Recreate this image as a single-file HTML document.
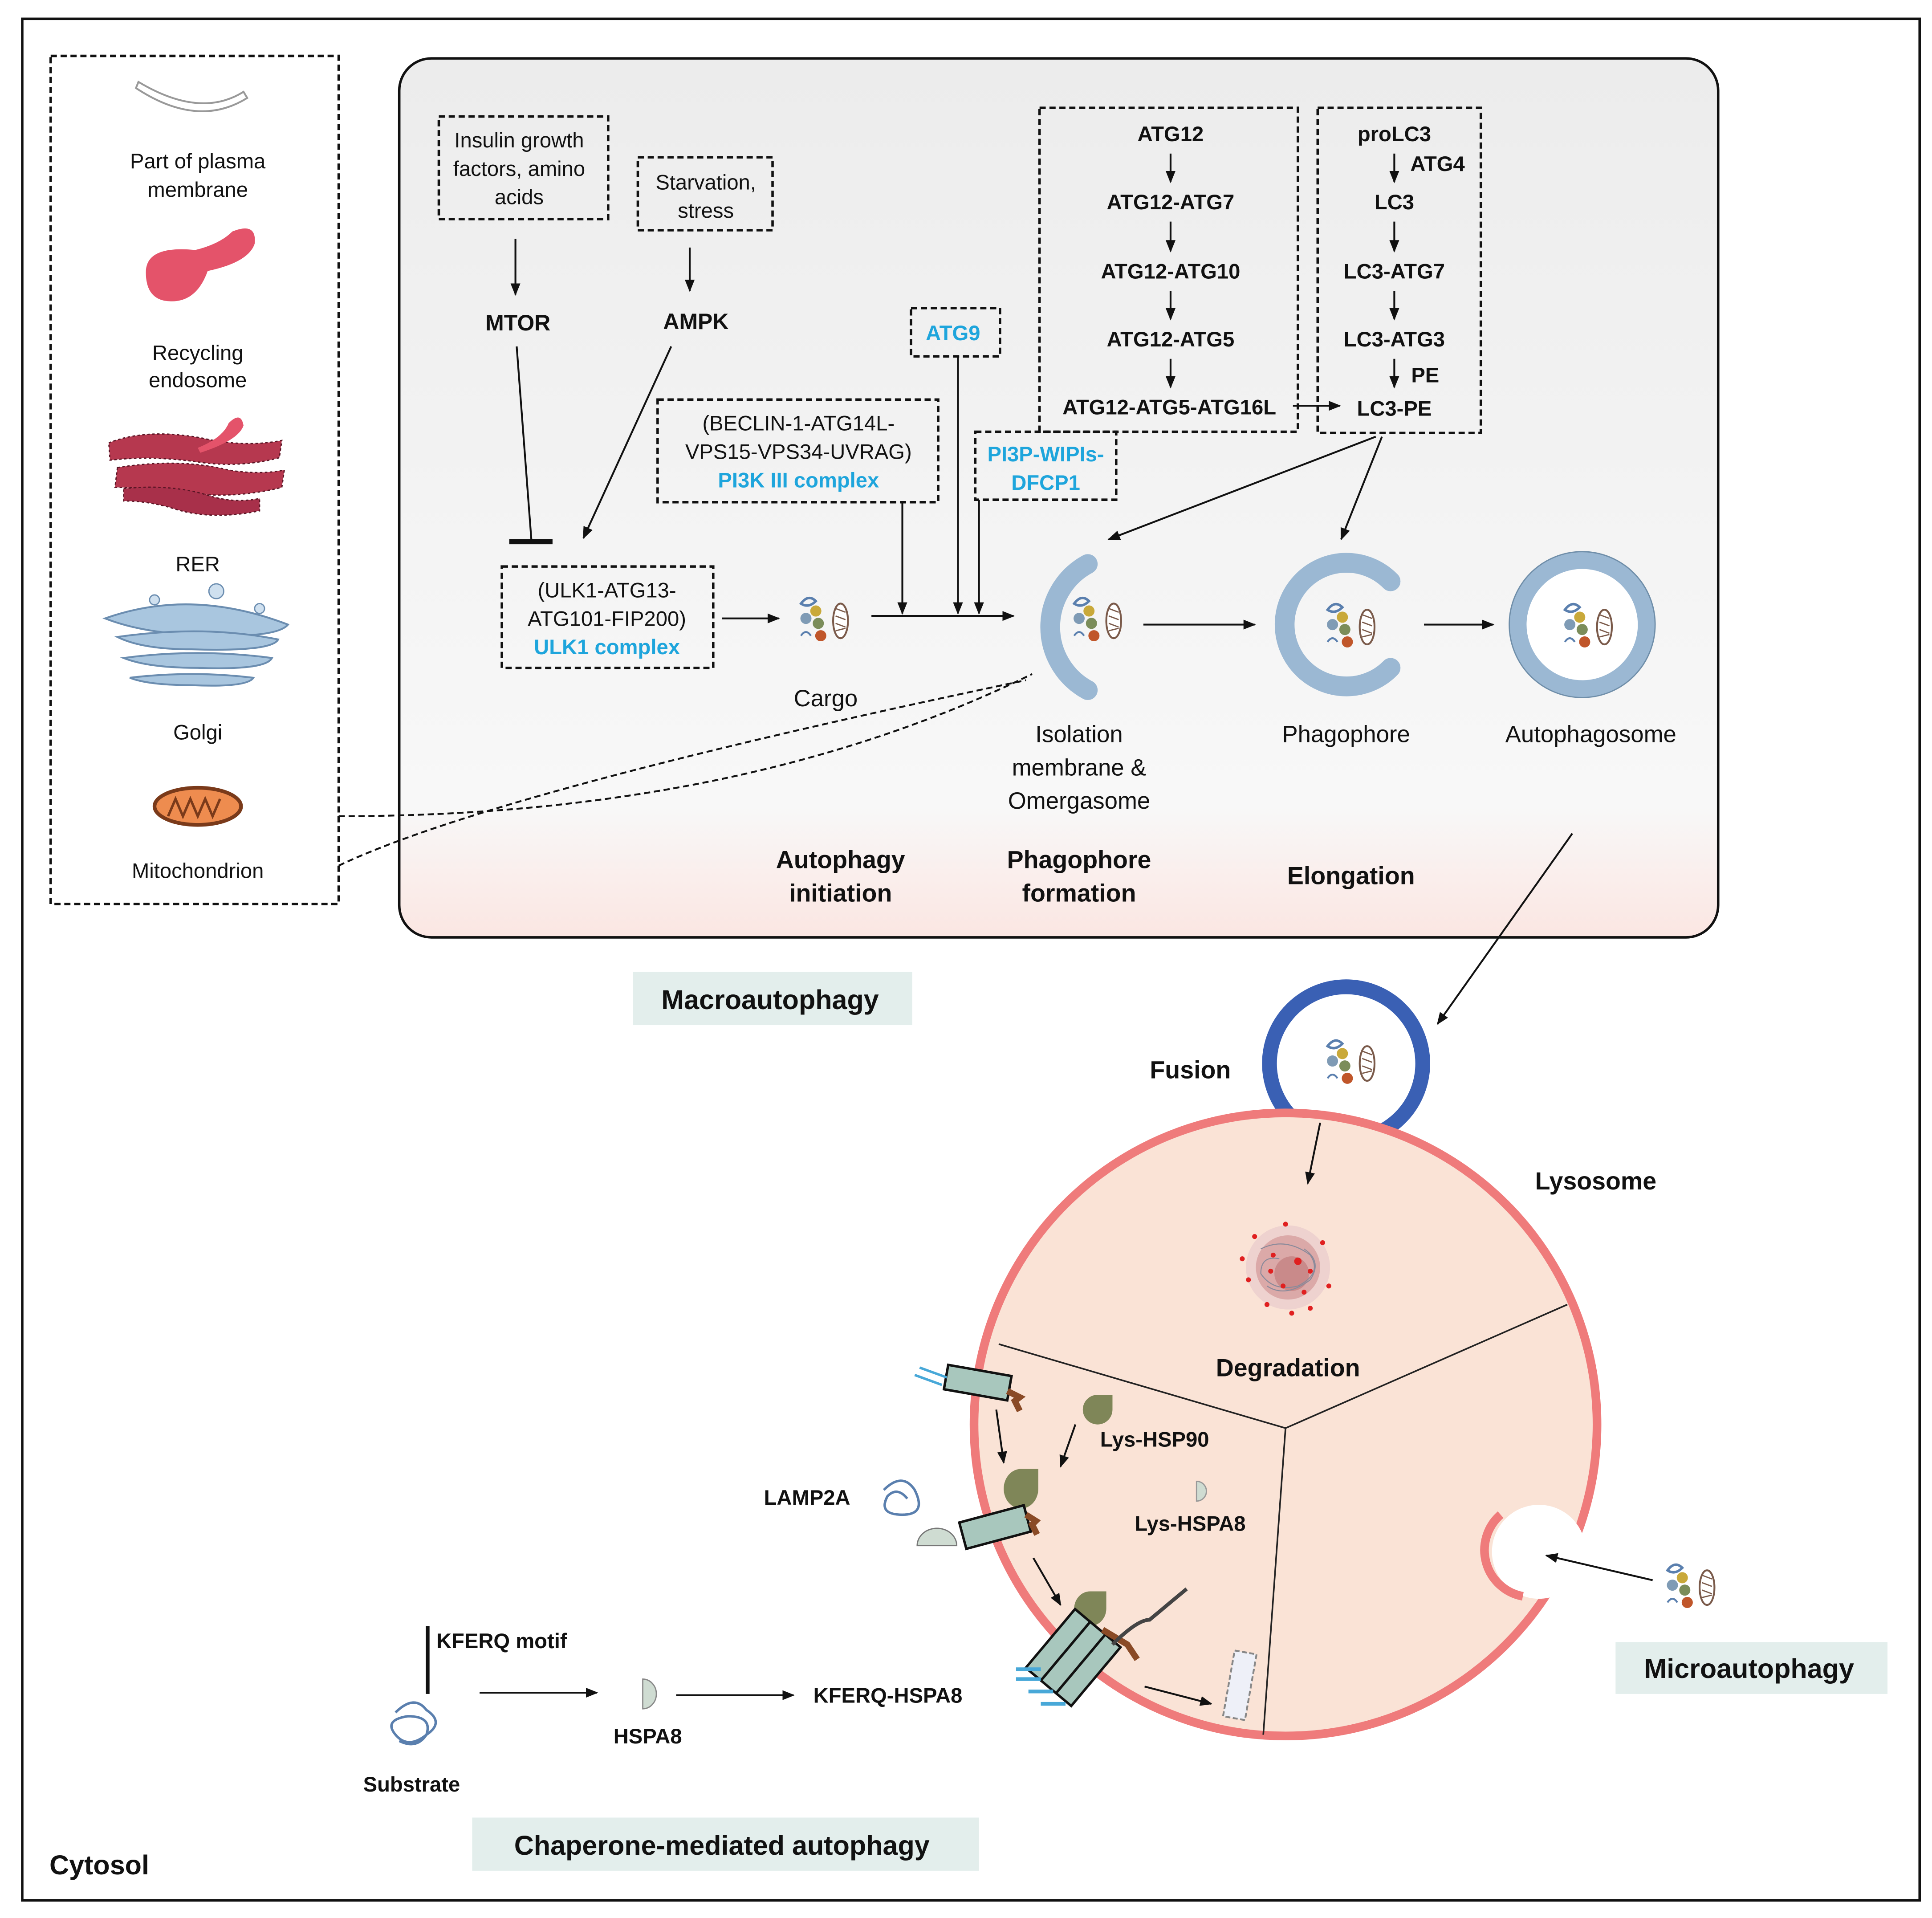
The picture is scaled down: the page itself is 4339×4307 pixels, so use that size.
<!DOCTYPE html>
<html><head><meta charset="utf-8">
<style>
html,body{margin:0;padding:0;background:#fff;}
svg{display:block;}
text{font-family:"Liberation Sans",sans-serif;fill:#111;}
.b{font-weight:bold;}
.c{fill:#1ea5dc;font-weight:bold;}
.d{fill:none;stroke:#111;stroke-width:2;stroke-dasharray:5,3;}
.l{stroke:#111;stroke-width:1.5;fill:none;}
</style></head>
<body>
<svg width="4339" height="4307" viewBox="0 0 1563 1551" xmlns="http://www.w3.org/2000/svg">
<defs>
<marker id="a" markerWidth="10" markerHeight="10" refX="9" refY="5" orient="auto" markerUnits="userSpaceOnUse"><path d="M0,1 L10,5 L0,9 z" fill="#111"/></marker>
<linearGradient id="pg" x1="0" y1="0" x2="0" y2="1"><stop offset="0" stop-color="#ececec"/><stop offset="0.85" stop-color="#f8f8f8"/><stop offset="1" stop-color="#fbe6e2"/></linearGradient>
<g id="cargo">
<path d="M-14,-12 q6,-8 12,-2 q-6,6 -12,2z" fill="none" stroke="#5a7fae" stroke-width="2"/>
<circle cx="-2" cy="-6" r="4.5" fill="#c9a93a"/>
<circle cx="-10" cy="0" r="4.5" fill="#7f9bb5"/>
<circle cx="0" cy="4" r="4.5" fill="#7b8d5a"/>
<circle cx="2" cy="14" r="4.5" fill="#c0562a"/>
<path d="M-14,14 q4,-6 8,0" fill="none" stroke="#5a7fae" stroke-width="1.5"/>
<ellipse cx="18" cy="2" rx="6" ry="14" fill="#fff" stroke="#7a5a4a" stroke-width="1.5"/>
<path d="M14,-8 l8,3 M14,-2 l8,3 M14,4 l8,3 M14,10 l8,-2" stroke="#7a5a4a" stroke-width="1"/>
</g>
</defs>

<rect x="18" y="15" width="1535" height="1522" fill="#fff" stroke="#111" stroke-width="2"/>
<rect x="323" y="47" width="1067" height="711" rx="26" fill="url(#pg)" stroke="#111" stroke-width="2"/>

<rect x="41" y="45" width="233" height="686" class="d"/>
<path d="M112,66 q50,30 85,8 l3,5 q-40,25 -90,-8z" fill="#fff" stroke="#999" stroke-width="1.5"/>
<text x="160" y="136" text-anchor="middle" font-size="17">Part of plasma</text>
<text x="160" y="159" text-anchor="middle" font-size="17">membrane</text>
<path d="M118,220 q0,-22 40,-18 q20,-5 30,-15 q20,-8 18,10 q-5,15 -38,22 q-10,28 -35,24 q-15,-3 -15,-23z" fill="#e4536a"/>
<text x="160" y="291" text-anchor="middle" font-size="17">Recycling</text>
<text x="160" y="313" text-anchor="middle" font-size="17">endosome</text>
<path d="M88,358 q30,-12 75,-4 q35,8 65,2 l-2,14 q-30,8 -62,4 q-40,-6 -75,-2z" fill="#b6384f" stroke="#5a1525" stroke-width="1" stroke-dasharray="2,2"/>
<path d="M95,378 q50,-8 90,2 q25,4 45,0 l-2,14 q-40,10 -80,4 q-30,-4 -55,-4z" fill="#b6384f" stroke="#5a1525" stroke-width="1" stroke-dasharray="2,2"/>
<path d="M100,395 q40,-4 70,6 q20,6 40,2 l0,10 q-40,8 -70,-2 q-20,-6 -40,-6z" fill="#a8304a" stroke="#5a1525" stroke-width="1" stroke-dasharray="2,2"/>
<path d="M160,362 q20,-8 25,-20 q10,-10 12,2 q-4,12 -35,22z" fill="#e4536a"/>
<text x="160" y="462" text-anchor="middle" font-size="17">RER</text>
<path d="M85,500 q70,-25 148,5 q-10,12 -80,8 q-40,-2 -68,-13z" fill="#a9c6df" stroke="#6b8db0" stroke-width="1.5"/>
<path d="M95,515 q70,-10 130,2 q-5,10 -70,8 q-40,0 -60,-10z" fill="#a9c6df" stroke="#6b8db0" stroke-width="1.5"/>
<path d="M100,532 q60,-8 120,0 q-5,10 -60,8 q-40,0 -60,-8z" fill="#a9c6df" stroke="#6b8db0" stroke-width="1.5"/>
<path d="M105,548 q50,-6 100,0 q-5,8 -50,6 q-35,0 -50,-6z" fill="#a9c6df" stroke="#6b8db0" stroke-width="1.5"/>
<circle cx="125" cy="485" r="4" fill="#cfe0ef" stroke="#6b8db0"/><circle cx="175" cy="478" r="6" fill="#cfe0ef" stroke="#6b8db0"/><circle cx="210" cy="492" r="4" fill="#cfe0ef" stroke="#6b8db0"/>
<text x="160" y="598" text-anchor="middle" font-size="17">Golgi</text>
<ellipse cx="160" cy="652" rx="35" ry="15" fill="#ee8c4f" stroke="#7a3a1a" stroke-width="3"/>
<path d="M136,660 l6,-14 l6,14 l6,-14 l6,14 l6,-14 l6,14 l6,-14" fill="none" stroke="#7a3a1a" stroke-width="2"/>
<text x="160" y="710" text-anchor="middle" font-size="17">Mitochondrion</text>

<path d="M274,660 Q600,660 835,545" fill="none" stroke="#111" stroke-width="1.5" stroke-dasharray="5,3"/>
<path d="M274,700 Q400,640 830,550" fill="none" stroke="#111" stroke-width="1.5" stroke-dasharray="5,3"/>

<rect x="355" y="94" width="137" height="83" class="d"/>
<text x="420" y="119" text-anchor="middle" font-size="17">Insulin growth</text>
<text x="420" y="142" text-anchor="middle" font-size="17">factors, amino</text>
<text x="420" y="165" text-anchor="middle" font-size="17">acids</text>
<rect x="516" y="127" width="109" height="59" class="d"/>
<text x="571" y="153" text-anchor="middle" font-size="17">Starvation,</text>
<text x="571" y="176" text-anchor="middle" font-size="17">stress</text>
<line x1="417" y1="193" x2="417" y2="238" class="l" marker-end="url(#a)"/>
<line x1="558" y1="200" x2="558" y2="235" class="l" marker-end="url(#a)"/>
<text x="419" y="267" text-anchor="middle" font-size="18" class="b">MTOR</text>
<text x="563" y="266" text-anchor="middle" font-size="18" class="b">AMPK</text>
<line x1="418" y1="280" x2="430" y2="438" class="l"/>
<line x1="412" y1="438" x2="447" y2="438" stroke="#111" stroke-width="4"/>
<line x1="543" y1="280" x2="472" y2="435" class="l" marker-end="url(#a)"/>

<rect x="406" y="458" width="171" height="82" class="d"/>
<text x="491" y="483" text-anchor="middle" font-size="17">(ULK1-ATG13-</text>
<text x="491" y="506" text-anchor="middle" font-size="17">ATG101-FIP200)</text>
<text x="491" y="529" text-anchor="middle" font-size="17" class="c">ULK1 complex</text>
<line x1="584" y1="500" x2="630" y2="500" class="l" marker-end="url(#a)"/>
<use href="#cargo" x="662" y="500"/>
<text x="668" y="571" text-anchor="middle" font-size="19">Cargo</text>
<line x1="705" y1="498" x2="820" y2="498" class="l" marker-end="url(#a)"/>

<rect x="532" y="323" width="227" height="83" class="d"/>
<text x="646" y="348" text-anchor="middle" font-size="17">(BECLIN-1-ATG14L-</text>
<text x="646" y="371" text-anchor="middle" font-size="17">VPS15-VPS34-UVRAG)</text>
<text x="646" y="394" text-anchor="middle" font-size="17" class="c">PI3K III complex</text>
<line x1="730" y1="406" x2="730" y2="496" class="l" marker-end="url(#a)"/>

<rect x="737" y="249" width="72" height="39" class="d"/>
<text x="771" y="275" text-anchor="middle" font-size="17" class="c">ATG9</text>
<line x1="775" y1="288" x2="775" y2="496" class="l" marker-end="url(#a)"/>

<rect x="789" y="349" width="114" height="55" class="d"/>
<text x="846" y="373" text-anchor="middle" font-size="17" class="c">PI3P-WIPIs-</text>
<text x="846" y="396" text-anchor="middle" font-size="17" class="c">DFCP1</text>
<line x1="792" y1="404" x2="792" y2="496" class="l" marker-end="url(#a)"/>

<rect x="841" y="87" width="209" height="262" class="d"/>
<g font-size="17" text-anchor="middle">
<text x="947" y="114" class="b">ATG12</text>
<text x="947" y="169" class="b">ATG12-ATG7</text>
<text x="947" y="225" class="b">ATG12-ATG10</text>
<text x="947" y="280" class="b">ATG12-ATG5</text>
<text x="946" y="335" class="b">ATG12-ATG5-ATG16L</text>
</g>
<line x1="947" y1="124" x2="947" y2="147" class="l" marker-end="url(#a)"/>
<line x1="947" y1="179" x2="947" y2="203" class="l" marker-end="url(#a)"/>
<line x1="947" y1="235" x2="947" y2="258" class="l" marker-end="url(#a)"/>
<line x1="947" y1="290" x2="947" y2="313" class="l" marker-end="url(#a)"/>
<line x1="1046" y1="328" x2="1084" y2="328" class="l" marker-end="url(#a)"/>

<rect x="1066" y="87" width="132" height="263" class="d"/>
<g font-size="17" text-anchor="middle">
<text x="1128" y="114" class="b">proLC3</text>
<text x="1128" y="169" class="b">LC3</text>
<text x="1128" y="225" class="b">LC3-ATG7</text>
<text x="1128" y="280" class="b">LC3-ATG3</text>
<text x="1128" y="336" class="b">LC3-PE</text>
<text x="1163" y="138" class="b">ATG4</text>
<text x="1153" y="309" class="b">PE</text>
</g>
<line x1="1128" y1="124" x2="1128" y2="147" class="l" marker-end="url(#a)"/>
<line x1="1128" y1="179" x2="1128" y2="203" class="l" marker-end="url(#a)"/>
<line x1="1128" y1="235" x2="1128" y2="258" class="l" marker-end="url(#a)"/>
<line x1="1128" y1="290" x2="1128" y2="313" class="l" marker-end="url(#a)"/>
<line x1="1113" y1="353" x2="897" y2="436" class="l" marker-end="url(#a)"/>
<line x1="1118" y1="353" x2="1085" y2="436" class="l" marker-end="url(#a)"/>

<path d="M880,456 A58,58 0 0 0 880,558" fill="none" stroke="#9bb8d3" stroke-width="16" stroke-linecap="round"/>
<use href="#cargo" x="883" y="500"/>
<line x1="925" y1="505" x2="1015" y2="505" class="l" marker-end="url(#a)"/>
<path d="M1125,470 A50,50 0 1 0 1125,540" fill="none" stroke="#9bb8d3" stroke-width="16" stroke-linecap="round"/>
<use href="#cargo" x="1088" y="505"/>
<line x1="1152" y1="505" x2="1208" y2="505" class="l" marker-end="url(#a)"/>
<circle cx="1280" cy="505" r="52" fill="#fff" stroke="#9bb8d3" stroke-width="14"/>
<circle cx="1280" cy="505" r="59" fill="none" stroke="#6f8ea9" stroke-width="1"/>
<use href="#cargo" x="1280" y="505"/>

<g font-size="19" text-anchor="middle">
<text x="873" y="600">Isolation</text>
<text x="873" y="627">membrane &amp;</text>
<text x="873" y="654">Omergasome</text>
<text x="1089" y="600">Phagophore</text>
<text x="1287" y="600">Autophagosome</text>
</g>
<g font-size="20" text-anchor="middle">
<text x="680" y="702" class="b">Autophagy</text>
<text x="680" y="729" class="b">initiation</text>
<text x="873" y="702" class="b">Phagophore</text>
<text x="873" y="729" class="b">formation</text>
<text x="1093" y="715" class="b">Elongation</text>
</g>

<rect x="512" y="786" width="226" height="43" fill="#e3eeec"/>
<text x="623" y="816" text-anchor="middle" font-size="22" class="b">Macroautophagy</text>

<line x1="1272" y1="674" x2="1163" y2="828" class="l" marker-end="url(#a)"/>

<!-- fusion vesicle (drawn before lysosome) -->
<circle cx="1089" cy="860" r="62" fill="#fff" stroke="#3a60b4" stroke-width="12"/>

<!-- lysosome -->
<circle cx="1040" cy="1152" r="252" fill="#fae3d6" stroke="#ef7b7b" stroke-width="7"/>
<circle cx="1245" cy="1255" r="38" fill="#fff"/>
<path d="M1214,1225 A38,38 0 0 0 1232,1291" fill="none" stroke="#ef7b7b" stroke-width="7"/>
<path d="M808,1087 L1040,1155 L1268,1055 M1040,1155 L1022,1403" fill="none" stroke="#222" stroke-width="1.3"/>

<use href="#cargo" x="1088" y="858"/>
<line x1="1068" y1="908" x2="1058" y2="957" class="l" marker-end="url(#a)"/>
<text x="963" y="872" text-anchor="middle" font-size="20" class="b">Fusion</text>
<text x="1291" y="962" text-anchor="middle" font-size="20" class="b">Lysosome</text>

<g>
<circle cx="1042" cy="1025" r="34" fill="#eed2cf"/>
<circle cx="1042" cy="1025" r="26" fill="#dba9a8"/>
<circle cx="1045" cy="1030" r="14" fill="#c98a8a"/>
<g fill="none" stroke="#8a8a9a" stroke-width="0.8">
<path d="M1020,1010 q20,-10 40,5 q10,15 -10,25 q-20,5 -30,-10 q0,-15 15,-12"/>
<path d="M1025,1040 q15,10 35,-5 q10,-15 -5,-25"/>
</g>
<g fill="#e02020">
<circle cx="1015" cy="1000" r="2"/><circle cx="1070" cy="1005" r="2"/><circle cx="1040" cy="990" r="2"/>
<circle cx="1010" cy="1035" r="2"/><circle cx="1075" cy="1040" r="2"/><circle cx="1045" cy="1062" r="2"/>
<circle cx="1025" cy="1055" r="2"/><circle cx="1060" cy="1058" r="2"/><circle cx="1050" cy="1020" r="3"/>
<circle cx="1030" cy="1015" r="2"/><circle cx="1060" cy="1028" r="2"/><circle cx="1005" cy="1018" r="2"/>
<circle cx="1038" cy="1040" r="2"/><circle cx="1055" cy="1045" r="2"/><circle cx="1028" cy="1028" r="2"/>
</g>
</g>
<text x="1042" y="1113" text-anchor="middle" font-size="20" class="b">Degradation</text>

<g transform="rotate(10 790 1118)"><rect x="765" y="1108" width="52" height="20" fill="#a8c7bd" stroke="#111" stroke-width="2"/></g>
<path d="M815,1125 l10,5 l-4,3 l4,8" stroke="#8a4a26" stroke-width="5" fill="none"/>
<path d="M740,1112 l22,8 M744,1106 l22,8" stroke="#48a8d8" stroke-width="2"/>
<line x1="806" y1="1140" x2="812" y2="1183" class="l" marker-end="url(#a)"/>
<path d="M888,1128 a12,12 0 1 0 12,12 l0,-12z" fill="#7f8658"/>
<line x1="870" y1="1152" x2="858" y2="1186" class="l" marker-end="url(#a)"/>
<text x="890" y="1170" font-size="17" class="b">Lys-HSP90</text>
<path d="M968,1198 a8,8 0 0 1 0,16z" fill="#cfdcd2" stroke="#999"/>
<text x="918" y="1238" font-size="17" class="b">Lys-HSPA8</text>
<path d="M826,1188 a14,16 0 1 0 14,16 l0,-16z" fill="#7f8658"/>
<g transform="rotate(-15 805 1235)"><rect x="778" y="1224" width="54" height="22" fill="#a8c7bd" stroke="#111" stroke-width="2"/></g>
<path d="M830,1225 l8,5 l-3,3 l4,8" stroke="#8a4a26" stroke-width="5" fill="none"/>
<path d="M742,1250 a16,14 0 0 1 32,0z" fill="#cfdcd2" stroke="#777"/>
<path d="M715,1205 q15,-15 25,0 q10,20 -10,20 q-20,0 -12,-15 q8,-8 16,2" fill="none" stroke="#5a7fae" stroke-width="2"/>
<text x="618" y="1217" font-size="17" class="b">LAMP2A</text>
<line x1="836" y1="1260" x2="858" y2="1298" class="l" marker-end="url(#a)"/>
<path d="M882,1287 a13,14 0 1 0 13,14 l0,-14z" fill="#7f8658"/>
<g transform="rotate(-50 866 1340)">
<rect x="836" y="1318" width="62" height="16" fill="#a8c7bd" stroke="#111" stroke-width="2"/>
<rect x="836" y="1334" width="62" height="16" fill="#a8c7bd" stroke="#111" stroke-width="2"/>
<rect x="836" y="1350" width="62" height="16" fill="#a8c7bd" stroke="#111" stroke-width="2"/>
</g>
<path d="M892,1318 l20,12 l8,12" stroke="#8a4a26" stroke-width="5" fill="none"/>
<path d="M900,1330 q20,-20 30,-20 l30,-25" stroke="#444" stroke-width="3" fill="none"/>
<path d="M822,1350 l20,0 M822,1358 l20,0 M832,1368 l20,0 M842,1378 l20,0" stroke="#48a8d8" stroke-width="3"/>
<line x1="926" y1="1364" x2="980" y2="1378" class="l" marker-end="url(#a)"/>
<g transform="rotate(10 1003 1363)"><rect x="994" y="1336" width="18" height="54" fill="#eef0f8" stroke="#888" stroke-width="1.5" stroke-dasharray="4,2"/></g>

<use href="#cargo" x="1363" y="1282"/>
<line x1="1337" y1="1278" x2="1251" y2="1258" class="l" marker-end="url(#a)"/>
<rect x="1307" y="1328" width="220" height="42" fill="#e3eeec"/>
<text x="1415" y="1357" text-anchor="middle" font-size="22" class="b">Microautophagy</text>

<line x1="346" y1="1315" x2="346" y2="1370" stroke="#111" stroke-width="3"/>
<text x="353" y="1333" font-size="17" class="b">KFERQ motif</text>
<path d="M320,1385 q15,-15 25,-2 q15,10 0,20 q-15,12 -25,0 q-10,-12 10,-15 q20,0 15,15 q-8,12 -22,5" fill="none" stroke="#5a7fae" stroke-width="2"/>
<text x="333" y="1449" text-anchor="middle" font-size="17" class="b">Substrate</text>
<line x1="388" y1="1369" x2="483" y2="1369" class="l" marker-end="url(#a)"/>
<path d="M520,1358 a11,12 0 0 1 0,24z" fill="#cfdcd2" stroke="#888"/>
<text x="524" y="1410" text-anchor="middle" font-size="17" class="b">HSPA8</text>
<line x1="547" y1="1371" x2="642" y2="1371" class="l" marker-end="url(#a)"/>
<text x="658" y="1377" font-size="17" class="b">KFERQ-HSPA8</text>

<rect x="382" y="1470" width="410" height="43" fill="#e3eeec"/>
<text x="584" y="1500" text-anchor="middle" font-size="22" class="b">Chaperone-mediated autophagy</text>

<text x="40" y="1516" font-size="22" class="b">Cytosol</text>
</svg>
</body></html>
